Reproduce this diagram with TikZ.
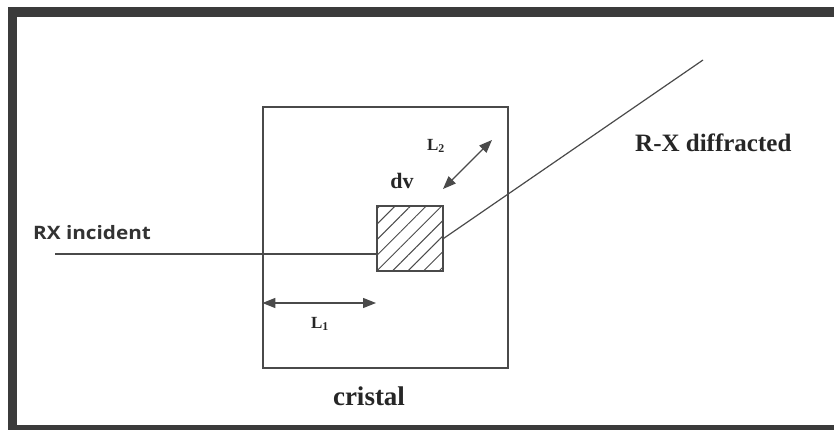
\documentclass[tikz,border=0pt]{standalone}
\usepackage{fontspec}
\setmainfont{Liberation Serif}
\newfontfamily\rxfont[FakeStretch=1.12]{Open Sans}
\usetikzlibrary{arrows.meta,patterns.meta}
\definecolor{framegray}{HTML}{3B3B3B}
\definecolor{linegray}{HTML}{4A4A4A}
\begin{document}
\begin{tikzpicture}[x=1pt,y=-1pt,
  line/.style={draw=linegray,line width=1.2pt},
  dimarrow/.style={line,{Triangle[length=13pt,width=10pt]}-{Triangle[length=13pt,width=10pt]}},
  lbl/.style={font=\bfseries\fontsize{#1}{#1}\selectfont,inner sep=0pt,text=black!85},
]
\useasboundingbox (0,0) rectangle (834,430);
\fill[white] (0,0) rectangle (834,430);
% frame
\fill[framegray] (8,7) rectangle (834,17);
\fill[framegray] (8,7) rectangle (17,430);
\fill[framegray] (8,425) rectangle (834,430);
% crystal
\node[line,minimum width=245pt,minimum height=261pt,inner sep=0pt] (crys) at (385.5,237.5) {};
% volume element dv
\node[line,minimum width=66pt,minimum height=65pt,inner sep=0pt,
  pattern={Lines[angle=45,distance=11pt,line width=1pt]},pattern color=linegray] (hb) at (410,238.5) {};
% beams
\coordinate (inc) at (55,254);
\coordinate (out) at (703,60);
\draw[line] (inc) -- (inc -| hb.west);
\draw[line] (hb.east) -- (out);
% L1
\coordinate (l1b) at (376,303);
\draw[dimarrow] (crys.west |- l1b) -- (l1b);
% L2
\coordinate (l2a) at (443,189);
\coordinate (l2b) at (492,140);
\draw[dimarrow] (l2a) -- (l2b);
% labels
\node[anchor=west,inner sep=0pt,text=black!80] (rxin) at (33,233) {\rxfont\bfseries\fontsize{18.5}{18.5}\selectfont RX incident};
\node[lbl=25,anchor=west] (rxout) at (635,143) {R-X diffracted};
\node[lbl=22] (dv) at (402,181) {dv};
\node[lbl=17] (L2) at (436,146) {L\textsubscript{2}};
\node[lbl=17] (L1) at (320,324) {L\textsubscript{1}};
\node[lbl=27] (cr) at (369,396) {cristal};
\end{tikzpicture}
\end{document}
